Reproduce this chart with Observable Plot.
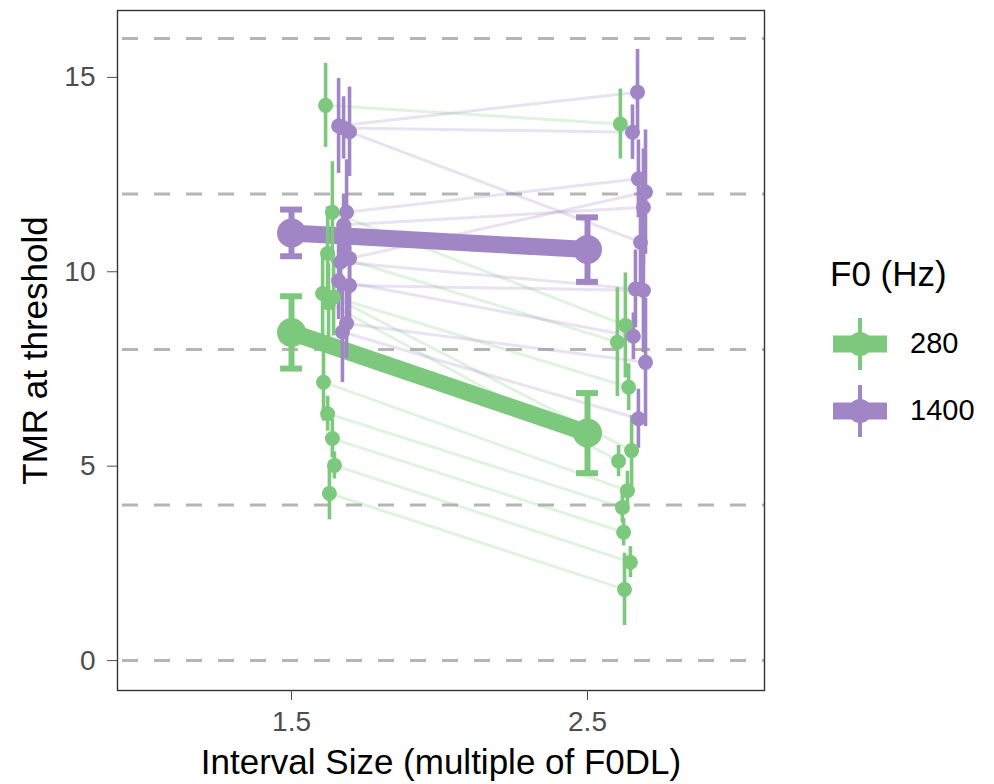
<!DOCTYPE html>
<html>
<head>
<meta charset="utf-8">
<script src="https://cdn.jsdelivr.net/npm/d3@7"></script>
<script src="https://cdn.jsdelivr.net/npm/@observablehq/plot@0.6"></script>
<style>
  html, body { margin: 0; padding: 0; background: #fff; }
  #wrap { position: relative; width: 994px; height: 784px; font-family: "Liberation Sans", Arial, sans-serif; }
  #legend { position: absolute; left: 830px; top: 252px; color: #000; }
  #legend .title { font-size: 35px; line-height: 44px; margin-bottom: 14px; }
  #legend .item { display: flex; align-items: center; height: 67px; }
  #legend .item svg { display: block; }
  #legend .lab { font-size: 29px; margin-left: 22px; }
</style>
</head>
<body>
<div id="wrap"><div id="legend"></div></div>
<script>
// ---- data ----
const f0Levels = ["280", "1400"];
const f0Colors = ["#7cc87c", "#a086c5"];
const xTicks = [1.5, 2.5];
const yTicks = [0, 5, 10, 15];
const gridLines = [0, 4, 8, 12, 16];

// group means (thick lines, big points) and their error bars
const meanF0   = ["280", "280", "1400", "1400"];
const meanX    = [1.5, 2.5, 1.5, 2.5];
const meanY    = [8.44, 5.85, 11.0, 10.57];
const meanErr  = [0.93, 1.03, 0.6, 0.83];

// individual listeners, F0 = 280 Hz (jittered interval position, TMR, error)
const g280_xa = [1.615, 1.638, 1.622, 1.605, 1.642, 1.625, 1.608, 1.622, 1.638, 1.645, 1.628];
const g280_ya = [14.28, 11.53, 10.47, 9.44, 9.35, 9.2, 7.16, 6.35, 5.71, 5.02, 4.30];
const g280_ea = [1.08, 1.3, 1.2, 1.1, 1.0, 1.0, 1.0, 0.45, 0.5, 0.35, 0.68];
const g280_xb = [2.611, 2.628, 2.601, 2.639, 2.649, 2.605, 2.635, 2.618, 2.622, 2.645, 2.625];
const g280_yb = [13.8, 8.62, 8.19, 7.03, 5.40, 5.13, 4.37, 3.94, 3.30, 2.53, 1.83];
const g280_eb = [0.9, 1.35, 1.4, 0.6, 0.9, 0.4, 0.5, 0.4, 0.35, 0.4, 0.93];

// individual listeners, F0 = 1400 Hz
const g1400_xa = [1.659, 1.676, 1.696, 1.686, 1.676, 1.696, 1.666, 1.659, 1.696, 1.686, 1.672];
const g1400_ya = [13.75, 13.7, 13.6, 11.53, 11.2, 10.34, 10.25, 9.77, 9.65, 8.67, 8.45];
const g1400_ea = [1.22, 0.8, 1.15, 1.35, 0.8, 0.9, 0.9, 1.0, 1.0, 0.9, 1.3];
const g1400_xb = [2.669, 2.652, 2.679, 2.672, 2.689, 2.696, 2.662, 2.655, 2.689, 2.696, 2.672];
const g1400_yb = [14.62, 13.59, 10.76, 12.39, 11.66, 12.05, 9.56, 8.34, 9.52, 7.67, 6.22];
const g1400_eb = [1.1, 0.7, 1.3, 1.0, 1.5, 1.6, 1.0, 0.6, 1.6, 1.65, 0.76];

// ---- build tables ----
const means = meanX.map((x, i) => ({f0: meanF0[i], x, y: meanY[i], lo: meanY[i] - meanErr[i], hi: meanY[i] + meanErr[i]}));
function subj(f0, xa, ya, ea, xb, yb, eb) {
  return xa.map((_, i) => ({f0, xa: xa[i], ya: ya[i], ea: ea[i], xb: xb[i], yb: yb[i], eb: eb[i]}));
}
const subjects = [
  ...subj("280", g280_xa, g280_ya, g280_ea, g280_xb, g280_yb, g280_eb),
  ...subj("1400", g1400_xa, g1400_ya, g1400_ea, g1400_xb, g1400_yb, g1400_eb)
];
const points = subjects.flatMap(s => [
  {f0: s.f0, x: s.xa, y: s.ya, lo: s.ya - s.ea, hi: s.ya + s.ea},
  {f0: s.f0, x: s.xb, y: s.yb, lo: s.yb - s.eb, hi: s.yb + s.eb}
]);
const capHalf = 0.037;

const chart = Plot.plot({
  width: 994,
  height: 784,
  marginLeft: 117,
  marginRight: 230,
  marginTop: 10,
  marginBottom: 94,
  style: {fontFamily: "'Liberation Sans', Arial, sans-serif", background: "transparent"},
  x: {domain: [0.912, 3.098]},
  y: {domain: [-0.77, 16.72]},
  color: {domain: f0Levels, range: f0Colors},
  marks: [
    Plot.ruleY(gridLines, {stroke: "#b5b5b5", strokeWidth: 3, strokeDasharray: "16,16", strokeDashoffset: 27}),
    Plot.link(subjects, {x1: "xa", y1: "ya", x2: "xb", y2: "yb", stroke: "f0", strokeOpacity: 0.24, strokeWidth: 3}),
    Plot.line(means, {x: "x", y: "y", z: "f0", stroke: "f0", strokeWidth: 17, strokeLinecap: "butt"}),
    Plot.ruleX(means, {x: "x", y1: "lo", y2: "hi", stroke: "f0", strokeWidth: 6}),
    Plot.ruleY(means, {x1: d => d.x - capHalf, x2: d => d.x + capHalf, y: "lo", stroke: "f0", strokeWidth: 6}),
    Plot.ruleY(means, {x1: d => d.x - capHalf, x2: d => d.x + capHalf, y: "hi", stroke: "f0", strokeWidth: 6}),
    Plot.dot(means, {x: "x", y: "y", fill: "f0", r: 14.5}),
    Plot.ruleX(points, {x: "x", y1: "lo", y2: "hi", stroke: "f0", strokeWidth: 3.6}),
    Plot.dot(points, {x: "x", y: "y", fill: "f0", r: 7.5}),
    Plot.frame({stroke: "#333", strokeWidth: 1.4}),
    Plot.axisY({ticks: yTicks, tickSize: 10, tickPadding: 12, fontSize: 28, color: "#4d4d4d", label: null}),
    Plot.axisX({ticks: xTicks, tickFormat: d => d.toFixed(1), tickSize: 10, tickPadding: 11, fontSize: 28, color: "#4d4d4d", label: null}),
    Plot.text(["TMR at threshold"], {frameAnchor: "left", textAnchor: "middle", dx: -82, rotate: -90, fontSize: 35, fill: "#000"}),
    Plot.text(["Interval Size (multiple of F0DL)"], {frameAnchor: "bottom", textAnchor: "middle", dy: 83, fontSize: 35, fill: "#000"})
  ]
});
document.getElementById("wrap").prepend(chart);

// ---- legend ----
const legend = document.getElementById("legend");
const t = document.createElement("div");
t.className = "title";
t.textContent = "F0 (Hz)";
legend.appendChild(t);
f0Levels.forEach((lv, i) => {
  const c = f0Colors[i];
  const item = document.createElement("div");
  item.className = "item";
  item.innerHTML =
    `<svg width="58" height="60" viewBox="0 0 58 60">
       <rect x="3" y="21.5" width="54" height="17" fill="${c}"/>
       <rect x="28" y="4" width="4" height="52" fill="${c}"/>
       <circle cx="30" cy="30" r="12" fill="${c}"/>
     </svg><span class="lab">${lv}</span>`;
  legend.appendChild(item);
});
</script>
</body>
</html>
